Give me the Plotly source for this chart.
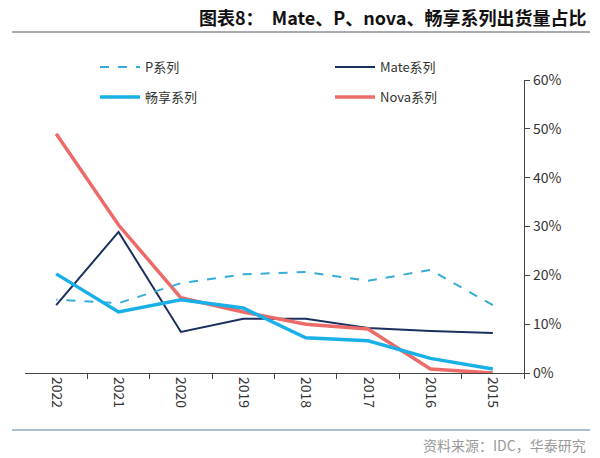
import plotly.graph_objects as go

years = ["2015", "2016", "2017", "2018", "2019", "2020", "2021", "2022"]
mate = [0.082, 0.086, 0.092, 0.111, 0.111, 0.084, 0.289, 0.139]
p_series = [0.139, 0.211, 0.189, 0.207, 0.202, 0.184, 0.143, 0.150]
nova = [0.000, 0.008, 0.090, 0.100, 0.125, 0.154, 0.303, 0.490]
changxiang = [0.008, 0.030, 0.066, 0.072, 0.133, 0.150, 0.125, 0.203]
y_ticks = [0, 0.1, 0.2, 0.3, 0.4, 0.5, 0.6]
y_tick_labels = ["0%", "10%", "20%", "30%", "40%", "50%", "60%"]

FONT = "Noto Sans CJK SC, Noto Sans, sans-serif"

fig = go.Figure()
fig.add_trace(go.Scatter(x=years, y=mate, name="Mate系列", mode="lines",
                         line=dict(color="#1b2f5e", width=2), legend="legend"))
fig.add_trace(go.Scatter(x=years, y=nova, name="Nova系列", mode="lines",
                         line=dict(color="#ec6b68", width=3.5), legend="legend2"))
fig.add_trace(go.Scatter(x=years, y=p_series, name="P系列", mode="lines",
                         line=dict(color="#35acd8", width=2, dash="dash"), legend="legend3"))
fig.add_trace(go.Scatter(x=years, y=changxiang, name="畅享系列", mode="lines",
                         line=dict(color="#19b0e8", width=3.5), legend="legend4"))

leg_common = dict(font=dict(family=FONT, size=13, color="#333333"),
                  bgcolor="rgba(0,0,0,0)", yanchor="middle", xanchor="left",
                  itemwidth=40, visible=True)
fig.update_layout(
    width=600, height=458,
    margin=dict(l=25, r=76, t=80, b=85, autoexpand=False),
    paper_bgcolor="white", plot_bgcolor="white",
    font=dict(family=FONT, size=13, color="#333333"),
    showlegend=True,
    legend=dict(x=(330 - 25) / 499, y=(373 - 67) / 293, **leg_common),
    legend2=dict(x=(330 - 25) / 499, y=(373 - 97) / 293, **leg_common),
    legend3=dict(x=(95 - 25) / 499, y=(373 - 67) / 293, **leg_common),
    legend4=dict(x=(95 - 25) / 499, y=(373 - 97) / 293, **leg_common),
    xaxis=dict(type="category", categoryorder="array", categoryarray=years,
               range=[len(years) - 0.5, -0.5], showgrid=False, zeroline=False,
               showline=True, linecolor="#444444", linewidth=1.2,
               ticks="outside", tickson="boundaries", ticklen=5, tickcolor="#444444",
               tickangle=90, tickfont=dict(size=14, color="#333333")),
    yaxis=dict(side="right", range=[0, 0.6], tickvals=y_ticks, ticktext=y_tick_labels,
               showgrid=False, zeroline=False, showline=True, linecolor="#444444",
               linewidth=1.2, ticks="outside", ticklen=5, tickcolor="#444444",
               tickfont=dict(size=14, color="#333333")),
)

fig.add_annotation(xref="paper", yref="paper", x=(588 - 25) / 499, y=(373 - 17) / 293,
                   text="<b>图表8：  Mate、P、nova、畅享系列出货量占比</b>",
                   showarrow=False, xanchor="right", yanchor="middle",
                   font=dict(family=FONT, size=18, color="#111111"))
fig.add_annotation(xref="paper", yref="paper", x=(588 - 25) / 499, y=(373 - 445) / 293,
                   text="资料来源：IDC，华泰研究",
                   showarrow=False, xanchor="right", yanchor="middle",
                   font=dict(family=FONT, size=14, color="#999999"))
fig.add_shape(type="line", xref="paper", yref="paper",
              x0=(12 - 25) / 499, x1=(590 - 25) / 499,
              y0=(373 - 32) / 293, y1=(373 - 32) / 293,
              line=dict(color="#8a8f96", width=1.5))
fig.add_shape(type="line", xref="paper", yref="paper",
              x0=(12 - 25) / 499, x1=(590 - 25) / 499,
              y0=(373 - 430) / 293, y1=(373 - 430) / 293,
              line=dict(color="#8fa9bf", width=1.5))

fig.write_html("out.html", config={"displayModeBar": False},
               post_script="document.body.style.margin='0px';")
